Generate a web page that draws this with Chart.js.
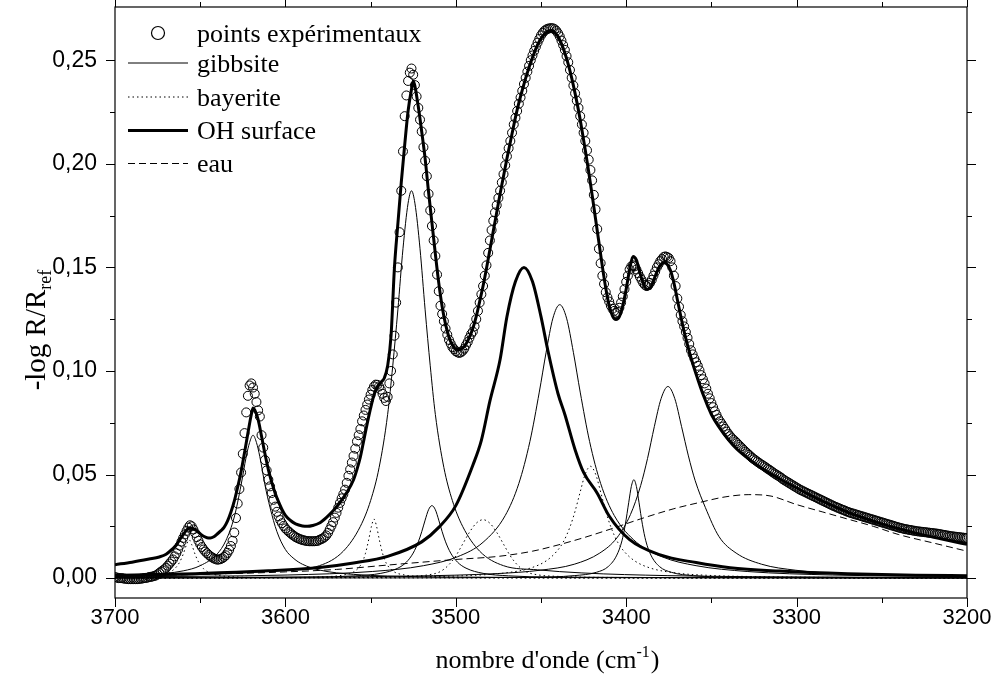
<!DOCTYPE html>
<html><head><meta charset="utf-8">
<script src="https://cdn.jsdelivr.net/npm/chart.js@4"></script>
<style>html,body{margin:0;padding:0;background:#fff}canvas{display:block}</style>
</head><body>
<canvas id="c" width="995" height="694"></canvas>
<script>
// ---- axis ticks ----
const xMajor = [3700, 3600, 3500, 3400, 3300, 3200];
const xMinor = [3650, 3550, 3450, 3350, 3250];
const yMajor = [0, 0.05, 0.10, 0.15, 0.20, 0.25];
const yMinor = [0.025, 0.075, 0.125, 0.175, 0.225];

// ---- experimental spectrum: one point per cm-1 from 3700 down to 3200 ----
const expStart = 3700, expStep = 1;
const expAbs = [
 0.0005,0.0003,0.0000,0.0000,0.0000,-0.0002,-0.0003,-0.0004,-0.0005,-0.0005,
 -0.0005,-0.0005,-0.0005,-0.0005,-0.0004,-0.0003,-0.0002,0.0000,0.0001,0.0002,
 0.0005,0.0006,0.0008,0.0010,0.0013,0.0018,0.0025,0.0031,0.0037,0.0043,
 0.0050,0.0060,0.0070,0.0080,0.0090,0.0105,0.0120,0.0138,0.0157,0.0176,
 0.0194,0.0211,0.0228,0.0244,0.0255,0.0250,0.0235,0.0218,0.0198,0.0180,
 0.0163,0.0150,0.0138,0.0128,0.0120,0.0112,0.0105,0.0100,0.0095,0.0092,
 0.0089,0.0090,0.0092,0.0096,0.0102,0.0110,0.0122,0.0136,0.0155,0.0180,
 0.0220,0.0290,0.0360,0.0430,0.0510,0.0600,0.0700,0.0800,0.0880,0.0930,
 0.0940,0.0920,0.0890,0.0850,0.0810,0.0780,0.0690,0.0630,0.0570,0.0520,
 0.0475,0.0443,0.0411,0.0378,0.0345,0.0320,0.0298,0.0280,0.0265,0.0252,
 0.0240,0.0232,0.0224,0.0217,0.0210,0.0204,0.0198,0.0194,0.0190,0.0187,
 0.0184,0.0182,0.0180,0.0179,0.0178,0.0178,0.0178,0.0178,0.0179,0.0180,
 0.0185,0.0188,0.0192,0.0198,0.0206,0.0218,0.0235,0.0252,0.0270,0.0292,
 0.0315,0.0340,0.0363,0.0385,0.0405,0.0427,0.0460,0.0494,0.0525,0.0558,
 0.0590,0.0625,0.0660,0.0690,0.0720,0.0757,0.0785,0.0812,0.0838,0.0862,
 0.0885,0.0908,0.0925,0.0934,0.0933,0.0925,0.0910,0.0890,0.0870,0.0855,
 0.0875,0.0940,0.1000,0.1080,0.1170,0.1330,0.1500,0.1670,0.1870,0.2060,
 0.2230,0.2330,0.2400,0.2440,0.2460,0.2430,0.2380,0.2325,0.2270,0.2213,
 0.2156,0.2080,0.2015,0.1940,0.1855,0.1775,0.1700,0.1630,0.1555,0.1465,
 0.1385,0.1315,0.1275,0.1240,0.1205,0.1175,0.1150,0.1132,0.1115,0.1105,
 0.1095,0.1090,0.1087,0.1090,0.1097,0.1108,0.1125,0.1140,0.1160,0.1178,
 0.1190,0.1215,0.1250,0.1290,0.1330,0.1370,0.1410,0.1460,0.1510,0.1570,
 0.1630,0.1680,0.1725,0.1765,0.1800,0.1835,0.1870,0.1910,0.1950,0.1993,
 0.2036,0.2075,0.2110,0.2150,0.2190,0.2222,0.2255,0.2290,0.2320,0.2352,
 0.2385,0.2415,0.2445,0.2473,0.2500,0.2523,0.2545,0.2565,0.2585,0.2603,
 0.2620,0.2632,0.2642,0.2648,0.2652,0.2654,0.2655,0.2654,0.2650,0.2642,
 0.2630,0.2615,0.2595,0.2573,0.2550,0.2520,0.2490,0.2453,0.2415,0.2378,
 0.2340,0.2305,0.2270,0.2230,0.2190,0.2150,0.2110,0.2065,0.2020,0.1970,
 0.1920,0.1850,0.1780,0.1685,0.1590,0.1520,0.1460,0.1420,0.1380,0.1355,
 0.1335,0.1315,0.1300,0.1290,0.1280,0.1285,0.1305,0.1330,0.1360,0.1395,
 0.1430,0.1460,0.1490,0.1505,0.1510,0.1505,0.1490,0.1472,0.1455,0.1440,
 0.1425,0.1415,0.1410,0.1415,0.1425,0.1440,0.1460,0.1480,0.1500,0.1515,
 0.1530,0.1540,0.1550,0.1553,0.1550,0.1545,0.1530,0.1500,0.1460,0.1410,
 0.1350,0.1310,0.1270,0.1240,0.1215,0.1188,0.1160,0.1130,0.1100,0.1080,
 0.1060,0.1042,0.1025,0.1003,0.0980,0.0960,0.0940,0.0915,0.0890,0.0868,
 0.0845,0.0825,0.0805,0.0788,0.0770,0.0757,0.0745,0.0732,0.0720,0.0707,
 0.0695,0.0685,0.0675,0.0668,0.0660,0.0652,0.0643,0.0635,0.0627,0.0618,
 0.0610,0.0603,0.0595,0.0588,0.0580,0.0574,0.0568,0.0562,0.0556,0.0550,
 0.0545,0.0540,0.0534,0.0528,0.0523,0.0517,0.0511,0.0505,0.0500,0.0495,
 0.0490,0.0484,0.0477,0.0472,0.0467,0.0462,0.0457,0.0452,0.0447,0.0442,
 0.0437,0.0432,0.0427,0.0423,0.0419,0.0415,0.0411,0.0407,0.0403,0.0399,
 0.0395,0.0391,0.0387,0.0383,0.0379,0.0375,0.0371,0.0367,0.0363,0.0359,
 0.0355,0.0351,0.0347,0.0344,0.0340,0.0337,0.0333,0.0330,0.0327,0.0323,
 0.0320,0.0317,0.0314,0.0312,0.0309,0.0307,0.0304,0.0302,0.0299,0.0297,
 0.0294,0.0292,0.0289,0.0287,0.0284,0.0282,0.0279,0.0277,0.0274,0.0272,
 0.0269,0.0267,0.0264,0.0262,0.0259,0.0257,0.0254,0.0252,0.0249,0.0247,
 0.0244,0.0242,0.0240,0.0238,0.0236,0.0235,0.0233,0.0232,0.0230,0.0229,
 0.0227,0.0226,0.0225,0.0224,0.0223,0.0222,0.0221,0.0220,0.0219,0.0218,
 0.0217,0.0216,0.0215,0.0214,0.0212,0.0211,0.0209,0.0208,0.0206,0.0205,
 0.0203,0.0202,0.0201,0.0200,0.0199,0.0198,0.0197,0.0196,0.0195,0.0194,
 0.0193
];

// ---- total fit (thick line) ----
const fitWn = [3700,3690,3680,3674,3670,3666,3664,3662,3660,3658,3656,3654,3652,3650,3648,3646,3644,3642,3640,3638,3636,3634,3632,3630,3628,3626,3624,3622,3620,3619,3618,3616,3614,3612,3610,3608,3606,3604,3602,3600,3597,3594,3590,3587,3584,3580,3576,3572,3568,3564,3560,3558,3556,3554,3552,3550,3548,3546,3544,3542,3540,3538,3536,3534,3532,3530,3528,3526,3525,3524,3522,3520,3518,3516,3514,3512,3510,3508,3506,3504,3502,3500,3498,3496,3494,3492,3490,3488,3486,3484,3482,3480,3478,3476,3474,3472,3470,3468,3466,3464,3462,3460,3458,3456,3454,3452,3450,3448,3446,3444,3442,3440,3438,3436,3434,3432,3430,3428,3426,3424,3422,3420,3418,3416,3414,3412,3410,3408,3406,3404,3402,3400,3398,3396,3394,3392,3390,3388,3386,3384,3382,3380,3378,3376,3374,3372,3370,3368,3366,3364,3362,3360,3358,3356,3354,3352,3350,3346,3340,3335,3330,3325,3320,3310,3300,3290,3280,3270,3260,3250,3240,3230,3220,3210,3200];
const fitAbs = [0.0065,0.0077,0.0092,0.0102,0.0115,0.0143,0.0160,0.0185,0.0210,0.0232,0.0243,0.0238,0.0228,0.0214,0.0202,0.0195,0.0194,0.0200,0.0213,0.0228,0.0245,0.0275,0.0318,0.0372,0.0440,0.0515,0.0605,0.0700,0.0790,0.0821,0.0812,0.0765,0.0685,0.0600,0.0524,0.0462,0.0410,0.0368,0.0332,0.0303,0.0278,0.0262,0.0252,0.0250,0.0254,0.0266,0.0292,0.0325,0.0365,0.0413,0.0475,0.0525,0.0585,0.0665,0.0745,0.0820,0.0885,0.0925,0.0945,0.0965,0.1025,0.1170,0.1500,0.1710,0.1910,0.2090,0.2255,0.2360,0.2398,0.2375,0.2275,0.2155,0.2025,0.1865,0.1715,0.1565,0.1425,0.1310,0.1225,0.1163,0.1125,0.1105,0.1103,0.1110,0.1130,0.1163,0.1205,0.1263,0.1335,0.1410,0.1495,0.1585,0.1675,0.1765,0.1855,0.1940,0.2025,0.2105,0.2185,0.2260,0.2325,0.2385,0.2440,0.2490,0.2535,0.2575,0.2605,0.2627,0.2640,0.2643,0.2635,0.2615,0.2580,0.2535,0.2480,0.2415,0.2340,0.2258,0.2165,0.2065,0.1960,0.1850,0.1735,0.1620,0.1505,0.1400,0.1315,0.1265,0.1248,0.1262,0.1315,0.1395,0.1490,0.1553,0.1535,0.1475,0.1425,0.1395,0.1398,0.1435,0.1478,0.1510,0.1522,0.1515,0.1485,0.1425,0.1345,0.1265,0.1190,0.1125,0.1065,0.1010,0.0960,0.0912,0.0868,0.0827,0.0790,0.0735,0.0668,0.0622,0.0588,0.0556,0.0528,0.0480,0.0435,0.0392,0.0353,0.0318,0.0289,0.0262,0.0238,0.0217,0.0198,0.0180,0.0163];

// ---- gibbsite components ----
const g1Wn = [3700,3680,3660,3650,3640,3635,3630,3626,3623,3621,3619,3617,3615,3612,3609,3605,3600,3595,3590,3580,3560,3540,3500,3400,3200];
const g1Abs = [0.0010,0.0017,0.0035,0.0060,0.0117,0.0180,0.0295,0.0450,0.0586,0.0655,0.0690,0.0655,0.0586,0.0450,0.0340,0.0225,0.0138,0.0094,0.0067,0.0039,0.0018,0.0010,0.0005,0.0002,0.0001];
const g2Wn = [3700,3676,3626,3600,3580,3566,3556,3550,3545,3540,3537,3534,3531,3528,3526,3524,3521,3518,3515,3512,3507,3502,3496,3486,3472,3452,3426,3376,3326,3200];
const g2Abs = [0.0008,0.0012,0.0025,0.0040,0.0060,0.0130,0.0250,0.0374,0.0534,0.0790,0.1025,0.1295,0.1590,0.1810,0.1870,0.1810,0.1590,0.1295,0.1025,0.0790,0.0534,0.0374,0.0250,0.0130,0.0060,0.0040,0.0025,0.0012,0.0007,0.0003];
const g3Wn = [3700,3584,3559,3544,3534,3529,3525,3522,3520,3518,3516,3514,3512,3510,3508,3506,3503,3499,3494,3484,3469,3444,3200];
const g3Abs = [0.0001,0.0005,0.0011,0.0023,0.0048,0.0077,0.0121,0.0175,0.0224,0.0280,0.0330,0.0350,0.0330,0.0280,0.0224,0.0175,0.0121,0.0077,0.0048,0.0023,0.0011,0.0005,0.0001];
const g4Wn = [3700,3599,3549,3519,3499,3484,3471,3463,3456.5,3451,3447,3443,3439,3435,3431,3427,3421.5,3415,3407,3394,3379,3359,3329,3279,3200];
const g4Abs = [0.0006,0.0015,0.0032,0.0060,0.0103,0.0173,0.0302,0.0457,0.0660,0.0898,0.1090,0.1255,0.1320,0.1255,0.1090,0.0898,0.0660,0.0457,0.0302,0.0173,0.0103,0.0060,0.0032,0.0015,0.0008];
const g5Wn = [3700,3545,3455.5,3430.5,3417.5,3410.5,3405.5,3402.5,3400.5,3398.5,3397,3395.5,3394,3392.5,3390.5,3388.5,3385.5,3380.5,3373.5,3360.5,3335.5,3245,3200];
const g5Abs = [0.0000,0.0001,0.0004,0.0012,0.0028,0.0056,0.0111,0.0180,0.0260,0.0366,0.0442,0.0475,0.0442,0.0366,0.0260,0.0180,0.0111,0.0056,0.0028,0.0012,0.0004,0.0001,0.0000];
const g6Wn = [3700,3625.5,3525.5,3475.5,3450.5,3430.5,3415.5,3405.5,3397.5,3391.5,3387.5,3383.5,3379.5,3375.5,3371.5,3367.5,3363.5,3359.5,3353.5,3345.5,3335.5,3320.5,3300.5,3275.5,3225.5,3200];
const g6Abs = [0.0003,0.0004,0.0010,0.0022,0.0038,0.0067,0.0121,0.0194,0.0307,0.0447,0.0577,0.0731,0.0867,0.0925,0.0867,0.0731,0.0590,0.0470,0.0340,0.0200,0.0121,0.0067,0.0038,0.0022,0.0012,0.0010];

// ---- bayerite components ----
const b1Wn = [3700,3681,3670,3665,3662,3660,3658,3656.5,3655,3653,3651,3648,3643,3632,3607,3200];
const b1Abs = [0.0003,0.0007,0.0021,0.0045,0.0078,0.0115,0.0162,0.0185,0.0162,0.0115,0.0078,0.0045,0.0021,0.0007,0.0002,0.0000];
const b2Wn = [3700,3606,3581,3566,3559,3555,3553,3551,3549.5,3548,3546.5,3545,3543,3541,3537,3530,3515,3490,3200];
const b2Abs = [0.0000,0.0002,0.0006,0.0015,0.0035,0.0075,0.0120,0.0190,0.0250,0.0285,0.0250,0.0190,0.0120,0.0075,0.0035,0.0015,0.0006,0.0002,0.0000];
const b3Wn = [3700,3684,3564,3529,3516,3509,3504,3500,3496,3492,3488,3484,3480,3476,3472,3468,3464,3459,3452,3439,3404,3284,3200];
const b3Abs = [0.0001,0.0001,0.0003,0.0008,0.0016,0.0032,0.0065,0.0107,0.0164,0.0221,0.0265,0.0282,0.0265,0.0221,0.0164,0.0107,0.0065,0.0032,0.0016,0.0008,0.0003,0.0001,0.0001];
const b4Wn = [3700,3621,3521,3491,3471,3456,3447,3441,3437,3433,3430,3427,3424,3421,3418,3415,3412,3409,3405,3401,3395,3386,3371,3351,3321,3221,3200];
const b4Abs = [0.0001,0.0002,0.0007,0.0013,0.0025,0.0049,0.0083,0.0127,0.0173,0.0247,0.0323,0.0416,0.0503,0.0540,0.0503,0.0416,0.0323,0.0247,0.0173,0.0127,0.0083,0.0049,0.0025,0.0013,0.0007,0.0002,0.0002];

// ---- OH surface component ----
const ohWn = [3700,3650,3610,3580,3560,3540,3520,3510,3500,3490,3485,3480,3474,3470,3465,3460,3455,3450,3446,3440,3436,3430,3425,3417,3410,3398,3380,3359,3339,3310,3270,3230,3200];
const ohAbs = [0.0014,0.0022,0.0035,0.0051,0.0073,0.0105,0.0175,0.0245,0.0350,0.0545,0.0665,0.0854,0.1055,0.1262,0.1432,0.1500,0.1432,0.1262,0.1100,0.0890,0.0790,0.0620,0.0510,0.0410,0.0300,0.0186,0.0112,0.0075,0.0050,0.0034,0.0021,0.0014,0.0012];

// ---- water (eau) component ----
const eauWn = [3700,3650,3600,3570,3540,3500,3475,3455,3440,3425,3408,3390,3372,3357,3342,3328,3315,3300,3285,3270,3255,3240,3220,3200];
const eauAbs = [0.0010,0.0018,0.0030,0.0042,0.0063,0.0090,0.0105,0.0130,0.0160,0.0195,0.0240,0.0290,0.0335,0.0365,0.0392,0.0403,0.0396,0.0355,0.0320,0.0285,0.0250,0.0210,0.0170,0.0130];

// ---- legend labels ----
const legendLabels = ['points expérimentaux', 'gibbsite', 'bayerite', 'OH surface', 'eau'];

const pts = (w, a) => w.map((x, i) => ({x: x, y: a[i]}));
const expPts = expAbs.map((v, i) => ({x: expStart - i * expStep, y: v}));

const thin = (w, a, dash) => ({
  data: pts(w, a), borderColor: '#000', borderWidth: 1, pointRadius: 0,
  borderDash: dash || [], cubicInterpolationMode: 'monotone', fill: false
});

const datasets = [
  {data: expPts, showLine: false, pointRadius: 4.5, pointBorderWidth: 1,
   pointBorderColor: '#000', pointBackgroundColor: 'rgba(0,0,0,0)', borderColor: '#000'},
  {data: pts(fitWn, fitAbs), borderColor: '#000', borderWidth: 3, pointRadius: 0, cubicInterpolationMode: 'monotone'},
  {data: pts(ohWn, ohAbs), borderColor: '#000', borderWidth: 3, pointRadius: 0, cubicInterpolationMode: 'monotone'},
  thin(g1Wn, g1Abs), thin(g2Wn, g2Abs), thin(g3Wn, g3Abs),
  thin(g4Wn, g4Abs), thin(g5Wn, g5Abs), thin(g6Wn, g6Abs),
  thin(b1Wn, b1Abs, [1.5, 3]), thin(b2Wn, b2Abs, [1.5, 3]),
  thin(b3Wn, b3Abs, [1.5, 3]), thin(b4Wn, b4Abs, [1.5, 3]),
  thin(eauWn, eauAbs, [7, 4])
];

const SERIF = '"Liberation Serif", "Times New Roman", serif';
const SANS = '"Liberation Sans", Arial, sans-serif';

const deco = {
  id: 'deco',
  afterDraw(chart) {
    const {ctx, chartArea: a, scales} = chart;
    const sx = scales.x, sy = scales.y;
    ctx.save();
    ctx.strokeStyle = '#000';
    ctx.lineWidth = 1.2;
    ctx.setLineDash([]);
    ctx.strokeRect(a.left, a.top, a.right - a.left, a.bottom - a.top);
    ctx.lineWidth = 1;
    const MAJ = 9, MIN = 5;
    ctx.beginPath();
    const xt = (v, len) => {
      const p = Math.round(sx.getPixelForValue(v)) + 0.5;
      ctx.moveTo(p, a.bottom); ctx.lineTo(p, a.bottom + len);
      ctx.moveTo(p, a.top); ctx.lineTo(p, a.top - len);
    };
    const yt = (v, len) => {
      const p = Math.round(sy.getPixelForValue(v)) + 0.5;
      ctx.moveTo(a.left, p); ctx.lineTo(a.left - len, p);
      ctx.moveTo(a.right, p); ctx.lineTo(a.right + len, p);
    };
    xMajor.forEach(v => xt(v, MAJ)); xMinor.forEach(v => xt(v, MIN));
    yMajor.forEach(v => yt(v, MAJ)); yMinor.forEach(v => yt(v, MIN));
    ctx.stroke();

    ctx.fillStyle = '#000';
    ctx.textBaseline = 'alphabetic';
    ctx.textAlign = 'left';
    const big = '26px ' + SERIF, small = '16px ' + SERIF;
    // x title
    ctx.font = big;
    const t1 = "nombre d'onde (cm", t3 = ")";
    const w1 = ctx.measureText(t1).width, w3 = ctx.measureText(t3).width;
    ctx.font = small;
    const t2 = '-1';
    const w2 = ctx.measureText(t2).width;
    const total = w1 + w2 + w3;
    const xx = (a.left + a.right) / 2 - total / 2 + 6;
    const by = 668;
    ctx.font = big; ctx.fillText(t1, xx, by);
    ctx.font = small; ctx.fillText(t2, xx + w1, by - 11);
    ctx.font = big; ctx.fillText(t3, xx + w1 + w2 + 1, by);

    // y title (rotated)
    ctx.save();
    ctx.translate(45, 330);
    ctx.rotate(-Math.PI / 2);
    const yBig = '29px ' + SERIF, ySmall = '18px ' + SERIF;
    ctx.font = yBig;
    const y1 = '-log R/R';
    const yw1 = ctx.measureText(y1).width;
    ctx.font = ySmall;
    const y2 = 'ref';
    const yw2 = ctx.measureText(y2).width;
    const ys = -(yw1 + yw2) / 2;
    ctx.font = yBig; ctx.fillText(y1, ys, 0);
    ctx.font = ySmall; ctx.fillText(y2, ys + yw1, 6);
    ctx.restore();

    // legend
    const rows = [33, 63, 97, 130.5, 163.5];
    const lx0 = 128, lx1 = 188, tx = 197;
    ctx.beginPath();
    ctx.lineWidth = 1.2;
    ctx.arc(158, rows[0], 6.5, 0, Math.PI * 2);
    ctx.stroke();
    const styles = [null, {w: 1, d: []}, {w: 1, d: [1.5, 3]}, {w: 3, d: []}, {w: 1, d: [7, 4]}];
    for (let i = 1; i < 5; i++) {
      ctx.beginPath();
      ctx.lineWidth = styles[i].w;
      ctx.setLineDash(styles[i].d);
      ctx.moveTo(lx0, rows[i]); ctx.lineTo(lx1, rows[i]);
      ctx.stroke();
    }
    ctx.setLineDash([]);
    ctx.font = big;
    legendLabels.forEach((t, i) => ctx.fillText(t, tx, rows[i] + 8.5));
    ctx.restore();
  }
};

new Chart(document.getElementById('c'), {
  type: 'line',
  data: {datasets},
  options: {
    responsive: false,
    devicePixelRatio: 1,
    animation: false,
    events: [],
    layout: {padding: {left: 0, right: 28, top: 7, bottom: 0}},
    plugins: {legend: {display: false}, tooltip: {enabled: false}},
    elements: {line: {tension: 0}},
    scales: {
      x: {
        type: 'linear', reverse: true, min: 3200, max: 3700,
        afterBuildTicks: s => { s.ticks = xMajor.map(v => ({value: v})); },
        afterFit: s => { s.height = 96; s.paddingLeft = 0; s.paddingRight = 0; },
        grid: {display: false, drawTicks: false},
        border: {display: false},
        ticks: {padding: 7, color: '#000', font: {family: SANS, size: 22},
                maxRotation: 0, autoSkip: false, callback: v => String(v)}
      },
      y: {
        type: 'linear', min: -0.0096, max: 0.2757,
        afterBuildTicks: s => { s.ticks = yMajor.map(v => ({value: v})); },
        afterFit: s => { s.width = 115; s.paddingTop = 0; s.paddingBottom = 0; },
        grid: {display: false, drawTicks: false},
        border: {display: false},
        ticks: {padding: 18, color: '#000', font: {family: SANS, size: 23},
                callback: v => v.toFixed(2).replace('.', ',')}
      }
    }
  },
  plugins: [deco]
});
</script>
</body></html>
